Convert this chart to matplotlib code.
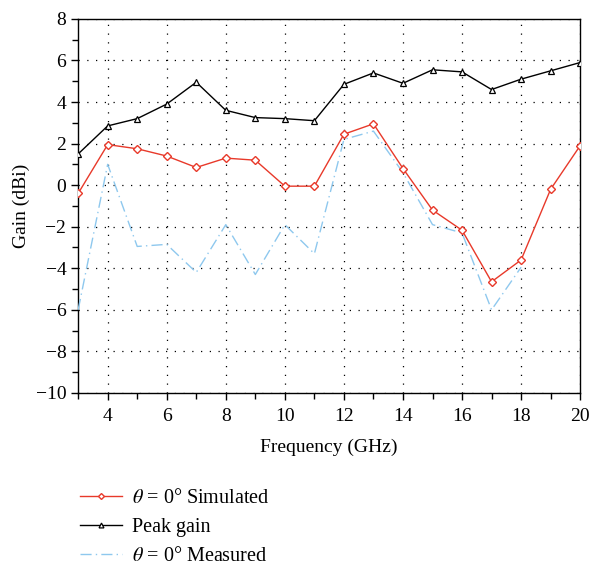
import matplotlib
matplotlib.use("Agg")
import matplotlib.pyplot as plt
from matplotlib.ticker import MultipleLocator
from matplotlib.lines import Line2D

plt.rcParams['font.family'] = ['Liberation Serif', 'DejaVu Serif']
plt.rcParams['mathtext.fontset'] = 'stix'

freq = [3, 4, 5, 6, 7, 8, 9, 10, 11, 12, 13, 14, 15, 16, 17, 18, 19, 20]
simulated = [-0.4, 1.95, 1.75, 1.4, 0.85, 1.3, 1.2, -0.05, -0.05, 2.45, 2.95,
             0.8, -1.2, -2.17, -4.65, -3.6, -0.2, 1.9]
peak_gain = [1.5, 2.85, 3.2, 3.9, 4.95, 3.6, 3.25, 3.2, 3.1, 4.85, 5.4, 4.9,
             5.55, 5.45, 4.6, 5.1, 5.5, 5.9]
freq_meas = [3, 4, 5, 6, 7, 8, 9, 10, 11, 12, 13, 14, 15, 16, 17, 18]
measured = [-6.0, 1.0, -2.95, -2.85, -4.2, -1.9, -4.3, -1.9, -3.3, 2.2, 2.6,
            0.6, -1.9, -2.3, -6.0, -3.95]

labels = [r'$\theta$ = 0° Simulated', 'Peak gain', r'$\theta$ = 0° Measured']

red = '#e8392a'
blue = '#8ec8ee'
meas_ls = (0, (8, 3, 1, 3))

fig = plt.figure(figsize=(5.92, 5.72), dpi=100)
ax = fig.add_axes([0.132, 0.313, 0.848, 0.654])

ax.plot(freq, simulated, color=red, lw=1.0, marker='D', ms=4,
        mfc='white', mec=red, mew=1.0, zorder=4)
ax.plot(freq, peak_gain, color='black', lw=1.0, marker='^', ms=5,
        mfc='white', mec='black', mew=0.9, zorder=4)
ax.plot(freq_meas, measured, color=blue, lw=1.0, linestyle=meas_ls, zorder=3)

ax.set_xlim(3, 20)
ax.set_ylim(-10, 8)
ax.xaxis.set_major_locator(MultipleLocator(2))
ax.xaxis.set_minor_locator(MultipleLocator(1))
ax.yaxis.set_major_locator(MultipleLocator(2))
ax.yaxis.set_minor_locator(MultipleLocator(1))
ax.tick_params(which='both', direction='out', top=False, right=False,
               labelsize=14, width=1.0)
ax.tick_params(axis='x', which='major', pad=6)
ax.tick_params(which='major', length=5)
ax.tick_params(which='minor', length=4)
ax.grid(True, which='major', linestyle=(0, (1, 6)), color='black', lw=0.9)
for s in ax.spines.values():
    s.set_linewidth(1.0)

ax.set_xlabel('Frequency (GHz)', fontsize=14, labelpad=10)
ax.set_ylabel('Gain (dBi)', fontsize=14, labelpad=4)

h1 = Line2D([], [], color=red, lw=1.0, marker='D', ms=3, mfc='white',
            mec=red, mew=1.0)
h2 = Line2D([], [], color='black', lw=1.0, marker='^', ms=3.5, mfc='white',
            mec='black', mew=0.9)
h3 = Line2D([], [], color=blue, lw=1.0, linestyle=meas_ls)

fig.legend([h1, h2, h3], labels, loc='upper left', numpoints=1,
           bbox_to_anchor=(0.121, 0.160), frameon=False, fontsize=14.5,
           handlelength=2.1, handletextpad=0.5, labelspacing=0.5,
           borderaxespad=0)

fig.savefig('out.png', dpi=100)
